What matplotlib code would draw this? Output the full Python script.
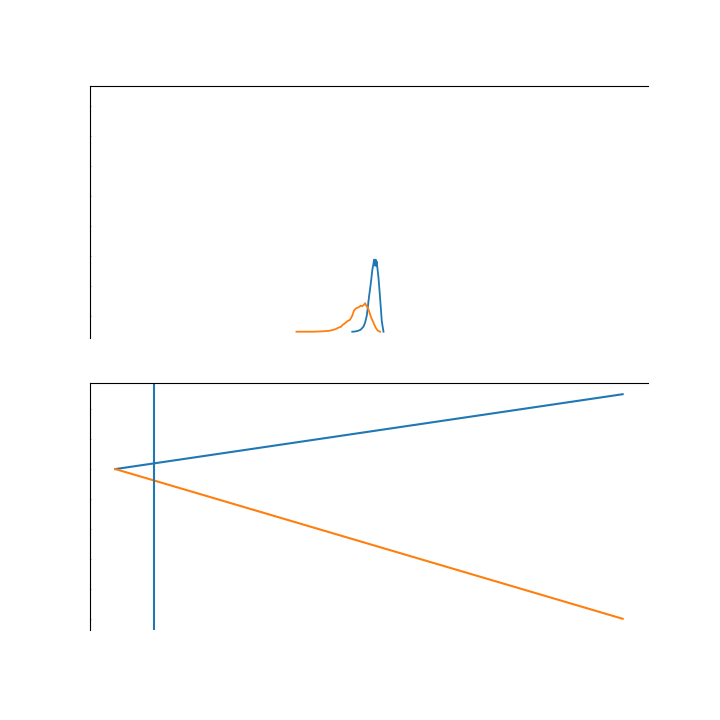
import numpy as np
import matplotlib
matplotlib.use("Agg")
import matplotlib.pyplot as plt

# ---- top panel: two distribution curves ----
orange_x = [37, 38, 39, 40, 41, 42, 43, 43.5, 44, 44.5, 45, 45.3, 45.6, 46, 46.3, 46.6, 47,
            47.3, 47.6, 47.9, 48.2, 48.5, 48.8, 49.1, 49.3, 49.5, 49.8, 50.1, 50.4, 50.8,
            51.2, 51.6, 52]
orange_y = [0, 0, 0, 0, 0.2, 0.5, 1, 1.8, 2.5, 4, 5, 7, 8, 10, 11, 12, 16,
            21, 23, 24, 24.5, 26, 25.5, 27, 28.5, 26, 24, 19, 14, 9,
            4, 1, 0]

blue_x = [47, 47.5, 48, 48.5, 49, 49.3, 49.6, 49.8, 50, 50.2, 50.4, 50.6, 50.8, 50.9,
          51.0, 51.1, 51.2, 51.3, 51.4, 51.5, 51.7, 51.9, 52.1, 52.3, 52.6]
blue_y = [0, 0.2, 0.8, 2, 5, 9, 16, 25, 35, 43, 52, 62, 68, 72,
          70, 66, 72, 66, 70, 64, 54, 40, 25, 10, 0]

top_xlim = (0, 100)
top_ylim = (-6.3, 245.7)
top_yticks = [15.7, 45.7, 75.7, 105.7, 135.7, 165.7, 195.7, 225.7]

# ---- bottom panel: two straight lines and a vertical marker ----
line_x = [0.0, 1.0]
blue_line = [0.0, 0.5]
orange_line = [0.0, -1.0]
vline_x = 0.0755
bottom_yticks = [-1.0, -0.8, -0.6, -0.4, -0.2, 0.0, 0.2, 0.4]

fig = plt.figure(figsize=(7.2, 7.2), dpi=100)
ax1 = fig.add_axes([90 / 720, 382 / 720, 558 / 720, 252 / 720])
ax2 = fig.add_axes([90 / 720, 90 / 720, 558 / 720, 247 / 720])

ax1.plot(blue_x, blue_y, color="tab:blue", lw=1.3)
ax1.plot(orange_x, orange_y, color="tab:orange", lw=1.3)
ax1.set_xlim(*top_xlim)
ax1.set_ylim(*top_ylim)
ax1.set_yticks(top_yticks)

ax2.plot(line_x, blue_line, color="tab:blue")
ax2.plot(line_x, orange_line, color="tab:orange")
ax2.axvline(vline_x, color="tab:blue")
ax2.set_yticks(bottom_yticks)

for ax in (ax1, ax2):
    ax.spines["right"].set_visible(False)
    ax.spines["bottom"].set_visible(False)
    ax.tick_params(axis="x", bottom=False, labelbottom=False)
    ax.tick_params(axis="y", left=True, labelleft=False, direction="in",
                   length=1.0, width=0.4, color="#555555")

fig.savefig("out.png", dpi=100)
